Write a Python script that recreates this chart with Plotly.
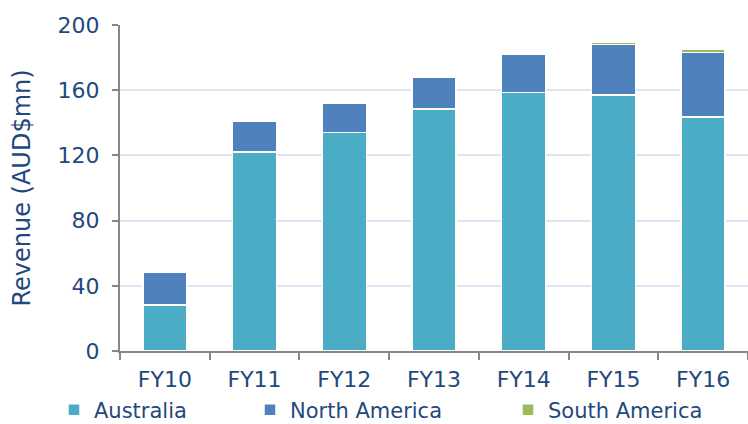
import plotly.graph_objects as go

years = ["FY10", "FY11", "FY12", "FY13", "FY14", "FY15", "FY16"]
australia = [28.2, 122, 134, 148.5, 158.5, 157, 143.5]
north_america = [20.3, 19, 18, 19.5, 23.5, 31, 39.5]
south_america = [0, 0, 0, 0.4, 0.9, 1.2, 2.0]

series = [
    ("Australia", australia, "#4BACC6", "legend", 54),
    ("North America", north_america, "#4F81BD", "legend2", 250),
    ("South America", south_america, "#9BBB59", "legend3", 508),
]

text_color = "#1F497D"
font_family = "DejaVu Sans"
W, H = 748, 424

fig = go.Figure()
for name, values, color, leg, _ in series:
    fig.add_trace(go.Bar(
        x=years, y=values, name=name,
        marker=dict(color=color, line=dict(color="white", width=1.5)),
        legend=leg, showlegend=True,
    ))

legend_common = dict(
    orientation="h", xref="container", yref="container",
    yanchor="middle", y=(H - 410) / H, xanchor="left",
    font=dict(family=font_family, size=21, color=text_color),
    bgcolor="rgba(0,0,0,0)", itemwidth=30, tracegroupgap=0,
)
legends = {leg: dict(x=px / W, **legend_common) for _, _, _, leg, px in series}

fig.update_layout(
    width=W, height=H,
    showlegend=True,
    barmode="stack", bargap=0.51,
    margin=dict(l=120, r=0, t=25, b=73, autoexpand=False),
    paper_bgcolor="white", plot_bgcolor="white",
    font=dict(family=font_family, size=22, color=text_color),
    **legends,
    xaxis=dict(
        showline=True, linecolor="#888888", linewidth=2,
        ticks="outside", ticklen=7, tickcolor="#888888", tickwidth=2,
        tickson="boundaries", ticklabelstandoff=8,
        tickfont=dict(size=22, color=text_color),
    ),
    yaxis=dict(
        range=[0, 200], tickvals=[0, 40, 80, 120, 160, 200],
        showline=True, linecolor="#888888", linewidth=2,
        ticks="outside", ticklen=6, tickcolor="#888888", tickwidth=2,
        ticklabelstandoff=8,
        showgrid=True, gridcolor="#DCE6F2", gridwidth=1.5,
        zeroline=False,
        tickfont=dict(size=22, color=text_color),
        title=dict(text="Revenue (AUD$mn)", font=dict(size=24, color=text_color), standoff=20),
    ),
)

fig.write_html("out.html")
